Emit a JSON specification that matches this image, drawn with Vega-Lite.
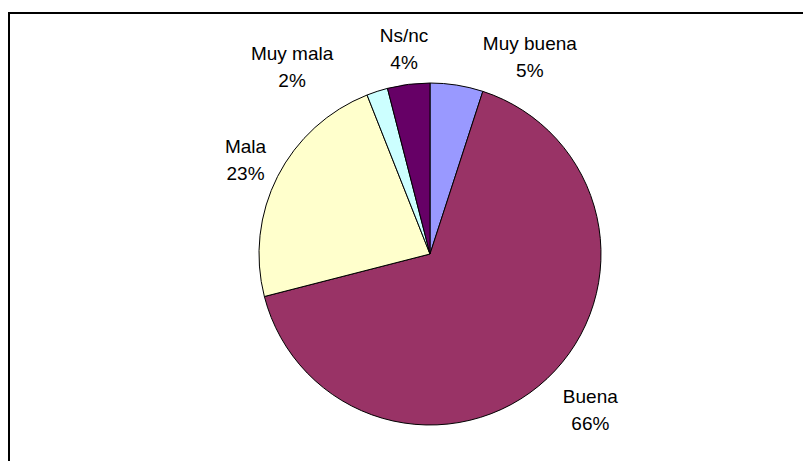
{
  "$schema": "https://vega.github.io/schema/vega-lite/v6.json",
  "width": 842,
  "height": 482,
  "padding": {"left": 9, "top": 13, "right": -48, "bottom": -34},
  "autosize": {"type": "none"},
  "background": "white",
  "view": {"stroke": "black", "strokeWidth": 2, "fill": "white"},
  "config": {
    "text": {"font": "Liberation Sans", "fontSize": 19, "lineBreak": "\n", "lineHeight": 27, "baseline": "middle", "align": "center", "color": "black"}
  },
  "data": {
    "values": [
      {"cat": "Muy buena", "value": 5, "ord": 1},
      {"cat": "Buena", "value": 66, "ord": 2},
      {"cat": "Mala", "value": 23, "ord": 3},
      {"cat": "Muy mala", "value": 2, "ord": 4},
      {"cat": "Ns/nc", "value": 4, "ord": 5}
    ]
  },
  "transform": [
    {"stack": "value", "sort": [{"field": "ord", "order": "ascending"}], "as": ["v0", "v1"]},
    {"calculate": "(datum.v0 + datum.v1) / 2", "as": "mid"},
    {"calculate": "datum.cat + '\\n' + datum.value + '%'", "as": "label"}
  ],
  "layer": [
    {
      "mark": {"type": "arc", "outerRadius": 171, "stroke": "black", "strokeWidth": 1},
      "encoding": {
        "theta": {"field": "v0", "type": "quantitative", "scale": {"domain": [0, 100]}},
        "theta2": {"field": "v1"},
        "color": {
          "field": "cat", "type": "nominal", "legend": null,
          "scale": {
            "domain": ["Muy buena", "Buena", "Mala", "Muy mala", "Ns/nc"],
            "range": ["#9999FF", "#993366", "#FFFFCC", "#CCFFFF", "#660066"]
          }
        }
      }
    },
    {
      "transform": [{"filter": "datum.cat == 'Buena'"}],
      "mark": {"type": "text", "radius": 224, "dx": 7, "dy": -20},
      "encoding": {
        "theta": {"field": "mid", "type": "quantitative", "scale": {"domain": [0, 100]}},
        "text": {"field": "label", "type": "nominal"}
      }
    },
    {
      "transform": [{"filter": "datum.cat == 'Mala' || datum.cat == 'Ns/nc'"}],
      "mark": {"type": "text", "radius": 207, "dy": -13},
      "encoding": {
        "theta": {"field": "mid", "type": "quantitative", "scale": {"domain": [0, 100]}},
        "text": {"field": "label", "type": "nominal"}
      }
    },
    {
      "transform": [{"filter": "datum.cat == 'Muy buena'"}],
      "mark": {"type": "text", "radius": 210, "dx": 67, "dy": -3},
      "encoding": {
        "theta": {"field": "mid", "type": "quantitative", "scale": {"domain": [0, 100]}},
        "text": {"field": "label", "type": "nominal"}
      }
    },
    {
      "transform": [{"filter": "datum.cat == 'Muy mala'"}],
      "mark": {"type": "text", "radius": 210, "dx": -73, "dy": 0},
      "encoding": {
        "theta": {"field": "mid", "type": "quantitative", "scale": {"domain": [0, 100]}},
        "text": {"field": "label", "type": "nominal"}
      }
    }
  ]
}
